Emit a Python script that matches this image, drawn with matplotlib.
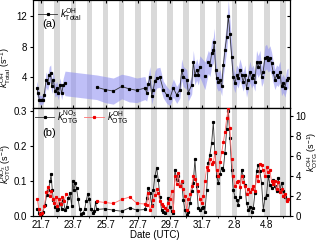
import numpy as np
import matplotlib
matplotlib.use("Agg")
import matplotlib.pyplot as plt
from matplotlib.ticker import FixedLocator, MultipleLocator
from matplotlib.lines import Line2D

plt.rcParams['font.family'] = ['Liberation Sans', 'DejaVu Sans']
plt.rcParams['mathtext.fontset'] = 'custom'
plt.rcParams['mathtext.rm'] = 'Liberation Sans'
plt.rcParams['mathtext.it'] = 'Liberation Sans:italic'
plt.rcParams['mathtext.bf'] = 'Liberation Sans:bold'
plt.rcParams['font.size'] = 7
plt.rcParams['axes.linewidth'] = 0.8

# x axis in day numbers counted from 1 July (1 Aug = 32)
date_ticks = [21, 23, 25, 27, 29, 31, 33, 35]
date_labels = ['21.7', '23.7', '25.7', '27.7', '29.7', '31.7', '2.8', '4.8']
night_days = list(range(21, 37))
x_range = (20.5, 36.43)

# ---- panel (a): total OH reactivity ----
total_day = [20.73, 20.83, 20.89, 21.00, 21.10, 21.20, 21.31, 21.41, 21.51, 21.60,
             21.66, 21.76, 21.87, 21.97, 22.07, 22.18, 22.28, 22.38, 22.49,
             24.45, 24.97, 25.48, 26.00, 26.46, 26.93, 27.44,
             27.55, 27.65, 27.75, 27.86, 27.96, 28.06, 28.17, 28.37, 28.58, 28.79,
             28.99, 29.20, 29.41, 29.61, 29.72, 29.82, 30.03, 30.13, 30.34, 30.44,
             30.54, 30.65, 30.75, 30.85,
             31.16,
             31.37, 31.47, 31.58, 31.68, 31.74, 31.82, 31.89, 31.99, 32.09, 32.20,
             32.30, 32.40, 32.51, 32.61, 32.71, 32.82, 32.91, 33.02, 33.13, 33.22,
             33.33, 33.43, 33.53, 33.64, 33.74, 33.84, 33.95, 34.05, 34.15, 34.26,
             34.36, 34.46, 34.57, 34.67, 34.77, 34.88, 34.98, 35.08, 35.19, 35.29,
             35.39, 35.50, 35.60, 35.70, 35.81, 35.91, 36.01, 36.12, 36.22, 36.32]
total_val = [2.6, 1.9, 1.1, 1.0, 1.1, 1.7, 3.7, 3.2, 4.3, 4.5,
             2.8, 3.7, 2.2, 2.6, 1.9, 3.0, 1.9, 3.0, 3.2,
             2.7, 2.4, 2.2, 2.8, 2.5, 2.3, 2.6,
             2.0, 3.1, 4.1, 1.6, 2.4, 3.5, 3.9, 4.0, 2.4, 1.7,
             1.3, 2.6, 1.7, 2.4, 5.0, 4.1, 3.7, 2.0, 3.0, 6.0,
             4.3, 5.0, 4.3, 5.4,
             4.2,
             6.0, 5.6, 7.1, 7.5, 8.6, 5.0, 3.9, 3.4, 3.7, 2.8,
             5.6, 7.5, 9.3, 12.0, 9.7, 6.7, 4.1, 3.2, 4.3, 3.9,
             5.0, 4.3, 3.4, 4.3, 2.6, 3.7, 4.7, 3.9, 4.3, 3.4,
             6.0, 5.4, 6.0, 4.1, 4.7, 6.5, 6.7, 6.2, 6.5, 5.8,
             4.7, 3.7, 4.3, 4.1, 4.7, 2.8, 3.2, 2.6, 3.7, 3.9]
total_err = [0.9, 0.8, 0.6, 0.6, 0.6, 0.7, 1.0, 0.9, 1.1, 1.1,
             0.9, 1.0, 0.8, 0.9, 0.8, 0.9, 0.8, 0.9, 1.6,
             1.6, 1.7, 1.7, 1.6, 1.7, 1.6, 1.5,
             1.1, 1.2, 1.3, 1.1, 1.1, 1.3, 1.3, 1.3, 1.1, 1.1,
             1.0, 1.2, 1.1, 1.1, 1.4, 1.3, 1.3, 1.1, 1.2, 1.5,
             1.3, 1.4, 1.3, 1.4,
             1.8,
             1.5, 1.5, 1.6, 1.7, 1.8, 1.4, 1.3, 1.2, 1.3, 1.2,
             1.5, 1.7, 1.8, 2.0, 1.9, 1.6, 1.3, 1.2, 1.3, 1.3,
             1.4, 1.3, 1.2, 1.3, 1.2, 1.3, 1.4, 1.3, 1.3, 1.2,
             1.5, 1.4, 1.5, 1.3, 1.4, 1.6, 1.6, 1.5, 1.6, 1.5,
             1.4, 1.3, 1.3, 1.3, 1.4, 1.2, 1.2, 1.2, 1.3, 1.3]
total_breaks = [22.49, 30.85, 31.16]   # line is interrupted after these days

# ---- panel (b): NO3 reactivity (left axis) ----
no3_day = [20.77, 20.89, 20.98, 21.11, 21.25, 21.35, 21.45, 21.56, 21.62, 21.70,
           21.76, 21.87, 21.97, 22.07, 22.18, 22.28, 22.38, 22.49, 22.59, 22.69,
           22.80, 22.90, 22.96, 23.04, 23.12, 23.20, 23.30, 23.40, 23.50, 23.60,
           23.70, 23.80, 23.90, 24.00, 24.10, 24.20, 24.30, 24.38,
           24.45, 24.97, 25.48, 26.00, 26.50, 26.95, 27.45,
           27.55, 27.65, 27.75, 27.86, 27.96, 28.06, 28.17, 28.27, 28.37,
           28.47, 28.58, 28.68, 28.79, 28.89, 28.99, 29.10, 29.20, 29.30, 29.41,
           29.51, 29.61, 29.72, 29.82, 29.92, 30.03, 30.13, 30.23, 30.34, 30.44,
           30.54, 30.65, 30.75, 30.85, 30.96, 31.06, 31.16, 31.27, 31.37, 31.47,
           31.58, 31.68, 31.78, 31.89, 31.99, 32.09, 32.20, 32.30, 32.40, 32.51,
           32.61, 32.71, 32.82, 32.92, 33.02, 33.13, 33.23, 33.33, 33.43, 33.54,
           33.64, 33.74, 33.85, 33.95, 34.05, 34.16, 34.26, 34.36, 34.47, 34.57,
           34.67, 34.78, 34.88, 34.98, 35.09, 35.19, 35.29, 35.40, 35.50, 35.60,
           35.71, 35.81, 35.91, 36.02, 36.12, 36.22]
no3_val = [0.021, 0.009, 0.003, 0.014, 0.033, 0.062, 0.076, 0.100, 0.120, 0.076,
           0.048, 0.028, 0.019, 0.022, 0.038, 0.022, 0.048, 0.019, 0.028, 0.052,
           0.067, 0.030, 0.100, 0.075, 0.095, 0.080, 0.050, 0.020, 0.008, 0.010,
           0.020, 0.045, 0.065, 0.050, 0.020, 0.010, 0.015, 0.040,
           0.020, 0.022, 0.018, 0.015, 0.025, 0.018, 0.020,
           0.052, 0.081, 0.067, 0.033, 0.076, 0.115, 0.139, 0.105, 0.055,
           0.019, 0.012, 0.009, 0.019, 0.052, 0.028, 0.015, 0.009, 0.134, 0.105,
           0.115, 0.086, 0.098, 0.048, 0.019, 0.004, 0.014, 0.038, 0.072, 0.096,
           0.163, 0.086, 0.024, 0.019, 0.024, 0.028, 0.014, 0.076, 0.153, 0.177,
           0.211, 0.269, 0.182, 0.115, 0.096, 0.120, 0.139, 0.134, 0.182, 0.249,
           0.302, 0.225, 0.134, 0.076, 0.057, 0.048, 0.033, 0.057, 0.134, 0.115,
           0.091, 0.038, 0.019, 0.028, 0.014, 0.024, 0.067, 0.129, 0.148, 0.129,
           0.096, 0.019, 0.052, 0.062, 0.115, 0.091, 0.081, 0.105, 0.086, 0.072,
           0.110, 0.076, 0.096, 0.072, 0.057, 0.048]

# ---- panel (b): OH reactivity from OTG (right axis) ----
oh_day = [20.77, 20.87, 20.95, 21.05, 21.20, 21.33, 21.43, 21.53, 21.62, 21.72,
          21.82, 21.92, 22.02, 22.12, 22.22, 22.32, 22.42, 22.55,
          24.45, 24.97, 25.48, 26.00, 26.50, 26.95, 27.45,
          27.55, 27.65, 27.75, 27.86, 27.96, 28.06, 28.17, 28.27, 28.37,
          28.47, 28.58, 28.68, 28.79, 28.89, 28.99, 29.10, 29.20, 29.30, 29.41,
          29.51, 29.61, 29.72, 29.82, 29.92, 30.03, 30.13, 30.23, 30.34, 30.44,
          30.54, 30.65, 30.75, 30.85, 30.96, 31.06, 31.16, 31.27, 31.37, 31.47,
          31.58, 31.68, 31.78, 31.89, 31.99, 32.09, 32.20, 32.30, 32.40, 32.51,
          32.61, 32.71, 32.82, 32.92, 33.02, 33.13, 33.23, 33.33, 33.43, 33.54,
          33.64, 33.74, 33.85, 33.95, 34.05, 34.16, 34.26, 34.36, 34.47, 34.57,
          34.67, 34.78, 34.88, 34.98, 35.09, 35.19, 35.29, 35.40, 35.50, 35.60,
          35.71, 35.81, 35.91, 36.02, 36.12, 36.22, 36.33]
oh_val = [1.7, 0.7, 0.2, 0.3, 1.0, 2.4, 2.9, 2.0, 2.5, 1.7,
          1.3, 1.9, 1.0, 1.7, 1.2, 1.9, 1.5, 2.2,
          1.5, 1.4, 1.3, 1.7, 1.95, 1.3, 1.25,
          1.17, 2.35, 0.66, 1.0, 1.67, 2.18, 2.7, 2.35, 1.5,
          1.2, 1.0, 0.8, 0.65, 1.3, 1.7, 2.5, 0.5, 4.0, 3.2,
          4.3, 3.0, 3.5, 2.7, 2.0, 0.65, 1.7, 2.2, 3.0, 4.0,
          3.7, 3.2, 2.5, 1.7, 1.3, 2.0, 3.5, 4.9, 4.6, 5.7,
          5.2, 5.4, 6.4, 4.6, 4.0, 5.4, 6.4, 7.4, 8.4, 9.8,
          10.8, 8.8, 5.7, 4.0, 3.0, 3.4, 3.5, 2.9, 4.0, 3.4,
          3.0, 2.2, 2.7, 2.4, 2.7, 3.0, 2.5, 4.0, 3.5, 5.2,
          5.1, 4.6, 4.0, 4.9, 4.4, 4.6, 3.5, 3.2, 3.5, 2.7,
          3.4, 2.4, 2.7, 2.0, 2.2, 1.5, 1.7]
oh_breaks = [22.55]


def segments(days, vals, breaks):
    d = np.asarray(days, dtype=float)
    v = np.asarray(vals, dtype=float)
    cut = [int(np.searchsorted(d, b, side='right')) for b in breaks]
    return list(zip(np.split(d, cut), np.split(v, cut)))


fig = plt.figure(figsize=(3.2, 2.4), dpi=100)
ax1 = fig.add_axes([0.103, 0.55, 0.803, 0.448])
ax2 = fig.add_axes([0.103, 0.098, 0.803, 0.452])

gray = '#d9d9d9'
for ax in (ax1, ax2):
    for d in night_days:
        ax.axvspan(d - 0.17, d + 0.17, color=gray, lw=0, zorder=0)
    ax.set_xlim(*x_range)
    ax.xaxis.set_major_locator(FixedLocator(date_ticks))
    ax.xaxis.set_minor_locator(MultipleLocator(1))

# panel (a)
td = np.asarray(total_day); tv = np.asarray(total_val); te = np.asarray(total_err)
ax1.fill_between(td, tv - te, tv + te, color='#8c8cf2', alpha=0.55, lw=0, zorder=1)
for d, v in segments(total_day, total_val, total_breaks):
    ax1.plot(d, v, color='#333333', lw=0.6, marker='s', ms=1.3, mfc='black',
             mec='black', zorder=3)
ax1.set_ylim(0, 14)
ax1.yaxis.set_major_locator(FixedLocator([4, 8, 12]))
ax1.tick_params(axis='x', which='both', direction='in', top=True, bottom=True,
                labelbottom=False, length=2.5)
ax1.tick_params(axis='x', which='minor', length=1.5)
ax1.tick_params(axis='y', which='both', direction='out', left=True, right=False,
                length=2.5, pad=1.5)
ax1r = ax1.twinx()
ax1r.set_ylim(0, 14)
ax1r.yaxis.set_major_locator(FixedLocator([4, 8, 12]))
ax1r.tick_params(axis='y', direction='in', length=2.5, labelright=False)
ax1.text(0.035, 0.78, '(a)', transform=ax1.transAxes, ha='left', va='center',
         fontsize=8)
h_tot = Line2D([], [], color='#333333', lw=0.6, marker='s', ms=1.3, mfc='black', mec='black')
ax1.legend([h_tot], [r'$k^{\mathrm{OH}}_{\mathrm{Total}}$'], loc='center left',
           bbox_to_anchor=(0.019, 0.87), frameon=False, borderpad=0, borderaxespad=0,
           handlelength=2.0, handletextpad=0.3, fontsize=7)

# panel (b)
for d, v in segments(no3_day, no3_val, []):
    ax2.plot(d, v, color='#333333', lw=0.6, marker='s', ms=1.3, mfc='black',
             mec='black', zorder=3)
ax2.set_ylim(0, 0.31)
ax2.yaxis.set_major_locator(FixedLocator([0.0, 0.1, 0.2, 0.3]))
ax2.set_yticklabels(['0.0', '0.1', '0.2', '0.3'])
ax2.set_xticks(date_ticks)
ax2.set_xticklabels(date_labels)
ax2.tick_params(axis='x', which='both', direction='out', top=False, length=2, pad=0.5)
ax2.tick_params(axis='x', which='minor', length=1.2)
ax2.tick_params(axis='y', direction='out', length=2.5, pad=1.5)

ax2r = ax2.twinx()
for d, v in segments(oh_day, oh_val, oh_breaks):
    ax2r.plot(d, v, color='#ff7070', lw=0.6, marker='s', ms=1.3, mfc='#ee0000',
              mec='#ee0000', zorder=3)
ax2r.set_ylim(0, 10.85)
ax2r.yaxis.set_major_locator(FixedLocator([0, 2, 4, 6, 8, 10]))
ax2r.tick_params(axis='y', direction='out', length=2.5, pad=1.5)
ax2r.set_xlim(*x_range)

ax2.text(0.035, 0.77, '(b)', transform=ax2.transAxes, ha='left', va='center',
         fontsize=8)
h_no3 = Line2D([], [], color='#333333', lw=0.6, marker='s', ms=1.3, mfc='black', mec='black')
h_oh = Line2D([], [], color='#ff7070', lw=0.6, marker='s', ms=1.3, mfc='#ee0000', mec='#ee0000')
ax2r.legend([h_no3, h_oh],
            [r'$k^{\mathrm{NO_3}}_{\mathrm{OTG}}$', r'$k^{\mathrm{OH}}_{\mathrm{OTG}}$'],
            loc='center left', bbox_to_anchor=(0.008, 0.92), ncol=2, frameon=False,
            borderpad=0, borderaxespad=0, handlelength=2.0, handletextpad=0.3,
            columnspacing=0.6, fontsize=7)

fig.text(6 / 320, 1 - 68 / 240, r'$k^{\mathrm{OH}}_{\mathrm{Total}}$ (s$^{-1}$)',
         rotation=90, ha='center', va='center', fontsize=6.5)
fig.text(6 / 320, 1 - 164 / 240, r'$k^{\mathrm{NO_3}}_{\mathrm{OTG}}$ (s$^{-1}$)',
         rotation=90, ha='center', va='center', fontsize=6.5)
fig.text(313 / 320, 1 - 152 / 240, r'$k^{\mathrm{OH}}_{\mathrm{OTG}}$ (s$^{-1}$)',
         rotation=90, ha='center', va='center', fontsize=6.5)
fig.text(155 / 320, 1 - 235.5 / 240, 'Date (UTC)', ha='center', va='center', fontsize=7)

fig.savefig('out.png', dpi=100)
